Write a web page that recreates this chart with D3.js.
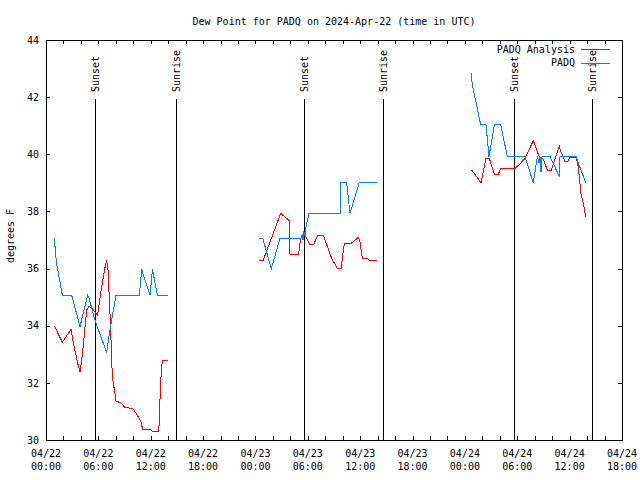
<!DOCTYPE html>
<html><head><meta charset="utf-8">
<script src="https://cdn.jsdelivr.net/npm/d3@7"></script>
<style>
body{margin:0;background:#fff}
svg text{font-family:"DejaVu Sans Mono",monospace;font-size:10px;fill:#000}
</style>
</head><body>
<svg id="c" width="640" height="480"></svg>
<script>
const title = "Dew Point for PADQ on 2024-Apr-22 (time in UTC)";
const yLabel = "degrees F";
const seriesNames = ["PADQ Analysis", "PADQ"];
const seriesColors = ["#ff0000", "#0080ff"];
const startDate = "2024-04-22T00:00:00Z";
const endHour = 66;
// hours since 2024-04-22 00:00 UTC; null = gap
const analysisHours = [0.95,1.87,2.6,2.87,3.2,3.7,3.9,4.05,4.3,4.66,4.93,5.3,5.55,5.9,6.3,6.84,6.95,7.1,7.35,7.6,7.9,8.02,8.67,9.05,9.93,10.4,10.66,10.95,11.04,11.92,12.19,12.87,13.0,13.1,13.33,13.94,
  14.5,
  24.41,24.9,26.89,27.88,27.96,28.95,29.18,29.57,29.8,30.17,30.7,31.09,31.78,32.73,33.42,33.8,34.18,34.95,35.79,35.95,36.25,36.86,37.09,37.5,37.89,
  38.5,
  48.78,49.85,50.42,50.8,51.37,51.83,52.1,53.74,54.31,54.89,55.84,56.3,56.61,56.95,57.49,57.87,58.82,59.0,59.47,59.78,60.04,60.73,60.99,61.3,61.57,61.84];
const analysisValues = [34.0,33.42,33.75,33.87,33.3,32.6,32.37,32.7,33.4,34.55,34.69,34.6,34.5,34.37,35.2,36.18,36.26,35.99,34.32,32.22,31.63,31.37,31.28,31.13,31.11,30.9,30.76,30.61,30.37,30.37,30.31,30.31,30.61,31.89,32.8,32.8,
  null,
  36.3,36.3,37.93,37.68,36.5,36.5,37.06,37.23,37.1,36.86,36.86,37.14,37.16,36.36,35.99,35.99,36.88,36.88,37.09,37.0,36.36,36.36,36.27,36.3,36.3,
  null,
  39.45,39.0,39.86,39.86,39.3,39.3,39.51,39.51,39.66,39.86,40.48,40.09,39.84,39.84,39.42,39.42,40.27,40.1,39.74,39.74,39.9,39.9,39.57,38.63,38.28,37.82];
const obsHours = [0.95,1.2,1.87,2.94,3.9,4.77,4.95,5.6,6.95,7.33,8.02,10.7,10.96,11.92,12.2,12.76,13.94,
  14.5,
  24.41,24.83,25.82,26.81,29.22,29.35,29.45,29.55,29.7,29.75,30.14,33.69,33.8,34.45,34.83,35.9,37.89,
  38.5,
  48.78,48.82,49.81,50.42,50.76,51.37,52.1,52.86,54.89,55.84,56.3,56.5,56.6,56.72,56.84,57.75,58.82,58.9,60.73,61.84];
const obsValues = [37.06,36.2,35.07,35.07,33.97,35.07,34.95,34.2,33.06,33.85,35.07,35.07,35.97,35.07,35.97,35.07,35.07,
  null,
  37.06,37.06,35.99,37.06,37.06,37.2,37.0,37.3,37.1,37.4,37.93,37.93,39.02,39.02,37.93,39.02,39.02,
  null,
  42.83,42.48,41.03,41.03,39.92,41.03,41.03,39.92,39.92,39.0,39.92,39.7,39.92,39.39,39.92,39.92,39.22,39.92,39.92,39.0];
const sunEventHours = [5.6, 14.9, 29.56, 38.6, 53.6, 62.56];
const sunEventLabels = ["Sunset", "Sunrise", "Sunset", "Sunrise", "Sunset", "Sunrise"];
const yTicks = [30, 32, 34, 36, 38, 40, 42, 44];
const labelEveryHours = 6;
const minorEveryHours = 2;

const W = 640, H = 480;
const M = {left: 46, right: 622, top: 40, bottom: 440};
const t0 = new Date(startDate).getTime();
const toDate = h => new Date(t0 + h * 3600e3);

const x = d3.scaleUtc().domain([toDate(0), toDate(endHour)]).range([M.left, M.right]);
const y = d3.scaleLinear().domain([30, 44]).range([M.bottom, M.top]);

const svg = d3.select("#c");
svg.append("rect").attr("width", W).attr("height", H).attr("fill", "#fff");

const minorTicks = d3.range(0, endHour + 0.01, minorEveryHours).map(toDate);
const labelTicks = d3.range(0, endHour + 0.01, labelEveryHours).map(toDate);

function styleAxis(g) {
  g.attr("font-family", null).attr("font-size", null);
  g.selectAll("path,line").attr("stroke", "#000").attr("shape-rendering", "crispEdges");
}

svg.append("g").attr("transform", `translate(0,${M.bottom})`)
  .call(d3.axisBottom(x).tickValues(minorTicks).tickSize(-4).tickSizeOuter(0).tickFormat(""))
  .call(styleAxis);
svg.append("g").attr("transform", `translate(0,${M.top})`)
  .call(d3.axisTop(x).tickValues(minorTicks).tickSize(-4).tickSizeOuter(0).tickFormat(""))
  .call(styleAxis);
svg.append("g").attr("transform", `translate(${M.left},0)`)
  .call(d3.axisLeft(y).tickValues(yTicks).tickSize(-4).tickSizeOuter(0).tickPadding(7).tickFormat(d3.format("d")))
  .call(styleAxis);
svg.append("g").attr("transform", `translate(${M.right},0)`)
  .call(d3.axisRight(y).tickValues(yTicks).tickSize(-4).tickSizeOuter(0).tickFormat(""))
  .call(styleAxis);

const fmtD = d3.utcFormat("%m/%d"), fmtT = d3.utcFormat("%H:%M");
const xl = svg.append("g").selectAll("text").data(labelTicks).join("text")
  .attr("text-anchor", "middle");
xl.append("tspan").attr("x", d => x(d)).attr("y", 457).text(fmtD);
xl.append("tspan").attr("x", d => x(d)).attr("y", 470).text(fmtT);

// sunrise / sunset
const sun = sunEventHours.map((h, i) => ({t: toDate(h), label: sunEventLabels[i]}));
svg.append("g").selectAll("line").data(sun).join("line")
  .attr("x1", d => Math.round(x(d.t)) + 0.5).attr("x2", d => Math.round(x(d.t)) + 0.5)
  .attr("y1", 99).attr("y2", M.bottom)
  .attr("stroke", "#000").attr("shape-rendering", "crispEdges");
svg.append("g").selectAll("text").data(sun).join("text")
  .attr("transform", d => `translate(${Math.round(x(d.t)) + 4},92) rotate(-90)`)
  .attr("text-anchor", "start").text(d => d.label);

// series
const line = d3.line().defined(d => d.v !== null).x(d => x(d.t)).y(d => y(d.v));
const series = [
  analysisHours.map((h, i) => ({t: toDate(h), v: analysisValues[i]})),
  obsHours.map((h, i) => ({t: toDate(h), v: obsValues[i]}))
];
series.forEach((s, i) => {
  svg.append("path").datum(s).attr("d", line).attr("fill", "none")
    .attr("stroke", seriesColors[i]).attr("stroke-width", 1)
    .attr("shape-rendering", "crispEdges");
});

// legend
seriesNames.forEach((n, i) => {
  const ly = 49 + i * 13.5;
  svg.append("text").attr("x", 575).attr("y", ly).attr("dy", "0.35em")
    .attr("text-anchor", "end").text(n);
  svg.append("line").attr("x1", 581).attr("x2", 610).attr("y1", Math.round(ly) + 0.5).attr("y2", Math.round(ly) + 0.5)
    .attr("stroke", seriesColors[i]).attr("shape-rendering", "crispEdges");
});

// title & y label
svg.append("text").attr("x", (M.left + M.right) / 2).attr("y", 21).attr("dy", "0.35em")
  .attr("text-anchor", "middle").text(title);
svg.append("text").attr("transform", "translate(10,236) rotate(-90)").attr("dy", "0.35em")
  .attr("text-anchor", "middle").text(yLabel);
</script>
</body></html>
